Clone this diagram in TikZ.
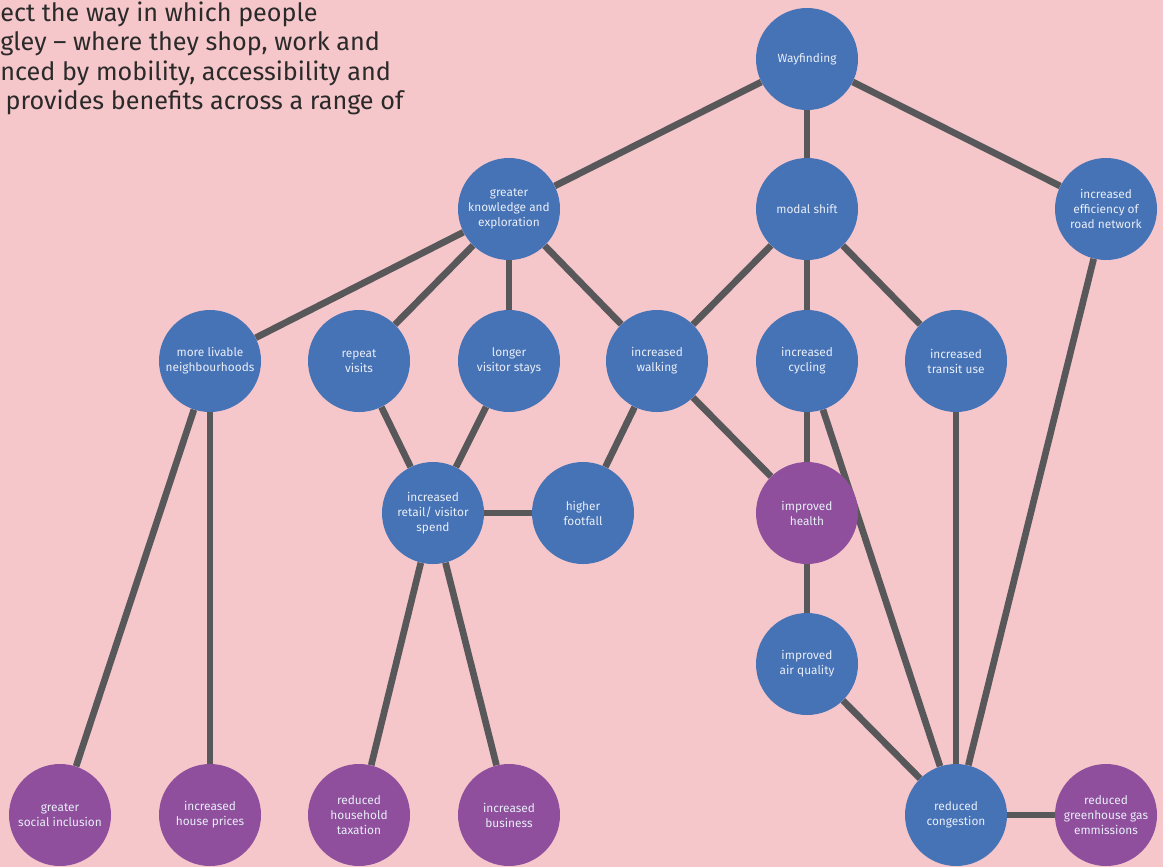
\documentclass[tikz,border=0pt]{standalone}
\usepackage{fontspec}
\setmainfont{Fira Sans}
\usetikzlibrary{backgrounds}
\definecolor{bgpink}{HTML}{F5C6CA}
\definecolor{bubbleblue}{HTML}{4672B6}
\definecolor{bubblepurple}{HTML}{8F4F9C}
\definecolor{linkgrey}{HTML}{58585A}
\definecolor{bubbletext}{HTML}{E8EEF8}
\definecolor{introtext}{HTML}{2B2A2A}

\begin{document}
\begin{tikzpicture}[x=0.75pt,y=-0.75pt,
    bubble/.style={circle,minimum size=76.5pt,inner sep=0pt,align=center,
      text=bubbletext,font=\fontsize{8.9}{11.25}\selectfont},
    cause/.style={bubble,fill=bubbleblue},
    benefit/.style={bubble,fill=bubblepurple},
    link/.style={draw=linkgrey,line width=5pt}]
    % Khung
    \useasboundingbox (0,0) rectangle (1163,867);
    \begin{scope}[on background layer]
      \fill[bgpink] (0,0) rectangle (1163,867);
    \end{scope}
    % Doan van
    \node[anchor=north west,align=left,inner sep=0pt,text=introtext,
      font=\fontsize{18.9}{21.8}\selectfont] (intro) at (0,2)
      {ect the way in which people\\gley -- where they shop, work and\\nced by mobility, accessibility and\\\hspace*{4pt}provides benefits across a range of};
    % Hang 1
    \node[cause] (way) at (807,59) {Wayfinding};
    % Hang 2
    \node[cause] (know) at (509,209) {greater\\knowledge and\\exploration};
    \node[cause] (modal) at (807,209) {modal shift};
    \node[cause] (road) at (1106,209) {increased\\efficiency of\\road network};
    % Hang 3
    \node[cause] (livable) at (210,361) {more livable\\neighbourhoods};
    \node[cause] (repeat) at (359,361) {repeat\\visits};
    \node[cause] (stays) at (509,361) {longer\\visitor stays};
    \node[cause] (walk) at (657,361) {increased\\walking};
    \node[cause] (cycle) at (807,361) {increased\\cycling};
    \node[cause] (transit) at (956,361) {increased\\transit use};
    % Hang 4
    \node[cause] (spend) at (433,513) {increased\\retail/ visitor\\spend};
    \node[cause] (foot) at (583,513) {higher\\footfall};
    \node[benefit] (health) at (807,513) {improved\\health};
    % Hang 5
    \node[cause] (air) at (807,664) {improved\\air quality};
    % Hang 6
    \node[benefit] (social) at (60,815) {greater\\social inclusion};
    \node[benefit] (house) at (210,815) {increased\\house prices};
    \node[benefit] (tax) at (359,815) {reduced\\household\\taxation};
    \node[benefit] (business) at (509,815) {increased\\business};
    \node[cause] (cong) at (956,815) {reduced\\congestion};
    \node[benefit] (green) at (1106,815) {reduced\\greenhouse gas\\emmissions};
    % Duong noi
    \begin{scope}[on background layer]
      \draw[link] (way) -- (know);
      \draw[link] (way) -- (modal);
      \draw[link] (way) -- (road);
      \draw[link] (know) -- (livable);
      \draw[link] (know) -- (repeat);
      \draw[link] (know) -- (stays);
      \draw[link] (know) -- (walk);
      \draw[link] (modal) -- (walk);
      \draw[link] (modal) -- (cycle);
      \draw[link] (modal) -- (transit);
      \draw[link] (road) -- (cong);
      \draw[link] (livable) -- (social);
      \draw[link] (livable) -- (house);
      \draw[link] (repeat) -- (spend);
      \draw[link] (stays) -- (spend);
      \draw[link] (spend) -- (foot);
      \draw[link] (spend) -- (tax);
      \draw[link] (spend) -- (business);
      \draw[link] (walk) -- (foot);
      \draw[link] (walk) -- (health);
      \draw[link] (cycle) -- (health);
      \draw[link] (cycle) -- (cong);
      \draw[link] (transit) -- (cong);
      \draw[link] (health) -- (air);
      \draw[link] (air) -- (cong);
      \draw[link] (cong) -- (green);
    \end{scope}
\end{tikzpicture}
\end{document}
